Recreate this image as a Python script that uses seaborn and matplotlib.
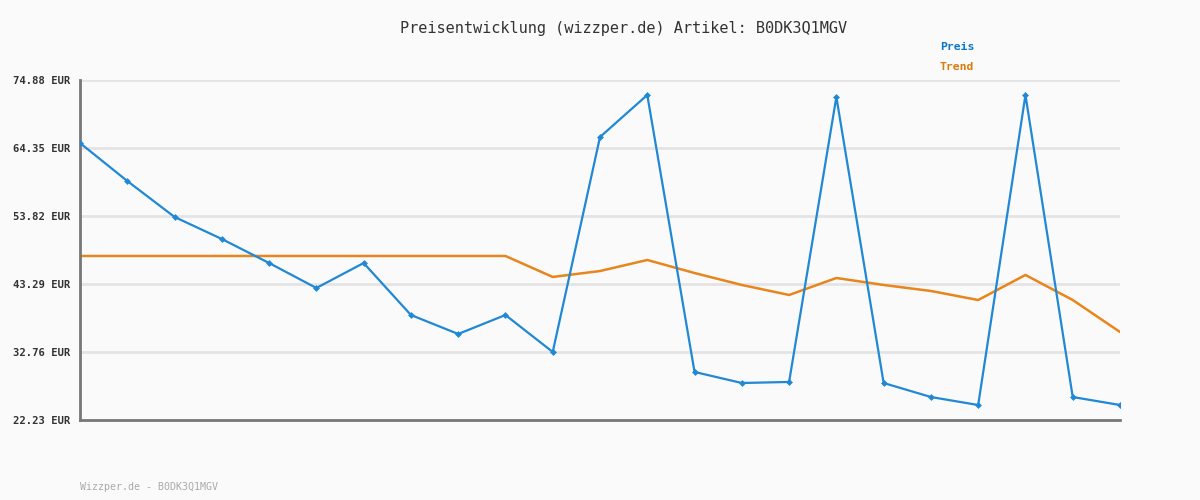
import matplotlib
matplotlib.use('Agg')
import matplotlib.pyplot as plt
import pandas as pd
import seaborn as sns

yticks=[22.23,32.76,43.29,53.82,64.35,74.88]
preis=[65.12,59.24,53.67,50.26,46.54,42.67,46.54,38.49,35.55,38.49,32.76,
       66.05,72.56,29.67,27.96,28.12,72.25,27.96,25.79,24.55,72.56,25.79,24.55]
trend=[47.63]*10+[44.38,45.30,47.01,44.99,43.14,41.59,44.22,43.14,42.21,40.81,44.69,40.81,35.86]
idx=list(range(len(preis)))

df=pd.DataFrame({'i':idx,'Preis':preis,'Trend':trend})

sns.set_style("white")
plt.rcParams['font.family']=['DejaVu Sans Mono']
fig=plt.figure(figsize=(12,5),dpi=100,facecolor='#fafafa')
ax=fig.add_axes([80/1200,80/500,1040/1200,340/500])
ax.set_facecolor('#fafafa')

for y in yticks:
    ax.axhline(y,color='#e4e4e4',lw=2,zorder=0)

sns.lineplot(data=df,x='i',y='Trend',ax=ax,color='#e8851c',lw=1.8,zorder=2)
sns.lineplot(data=df,x='i',y='Preis',ax=ax,color='#2088d4',lw=1.6,marker='D',
             markersize=3.5,markeredgewidth=0,zorder=3)

ax.set_xlim(0,len(preis)-1)
ax.set_ylim(yticks[0],yticks[-1])
ax.set_yticks(yticks)
ax.set_yticklabels([f'{v:.2f} EUR' for v in yticks],fontsize=7.6,fontweight='bold',color='#333333')
ax.set_xticks([])
ax.set_xlabel('')
ax.set_ylabel('')
ax.tick_params(axis='y',length=0,pad=7)
for s in ['top','right']:
    ax.spines[s].set_visible(False)
for s in ['left','bottom']:
    ax.spines[s].set_color('#777777')
    ax.spines[s].set_linewidth(2)

fig.text(624/1200,1-28/500,'Preisentwicklung (wizzper.de) Artikel: B0DK3Q1MGV',ha='center',va='center',
         fontsize=11,color='#333333')
fig.text(940/1200,1-47/500,'Preis',ha='left',va='center',fontsize=8.2,fontweight='bold',color='#0a78c8')
fig.text(940/1200,1-67/500,'Trend',ha='left',va='center',fontsize=8.2,fontweight='bold',color='#d97a0a')
fig.text(80/1200,1-487/500,'Wizzper.de - B0DK3Q1MGV',ha='left',va='center',fontsize=7.2,color='#aaaaaa')

fig.savefig('out.png',dpi=100,facecolor=fig.get_facecolor())
